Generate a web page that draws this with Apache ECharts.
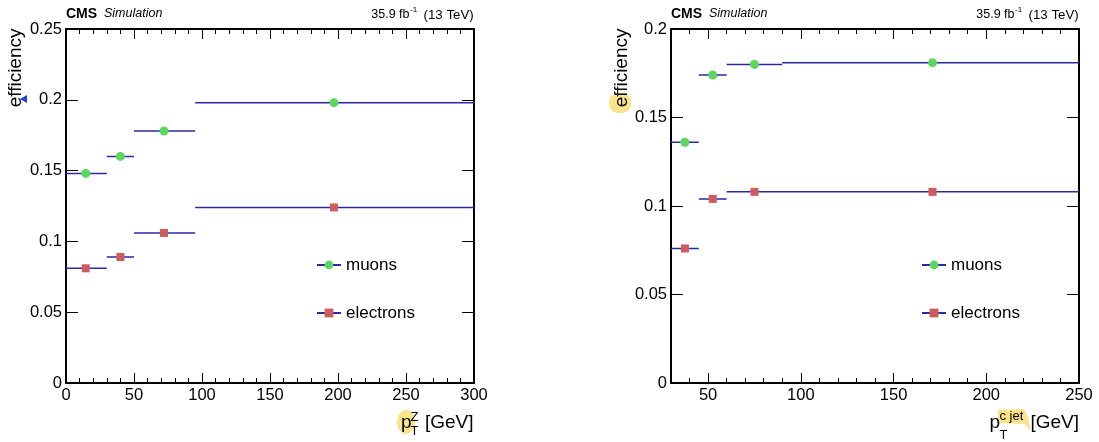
<!DOCTYPE html>
<html><head><meta charset="utf-8">
<script src="https://cdn.jsdelivr.net/npm/echarts@6/dist/echarts.min.js"></script>
<style>html,body{margin:0;padding:0;background:#fff}#c{width:1099px;height:442px}</style>
</head><body><div id="c"></div>
<script>
// ---------- data ----------
const leftBinLow = [0, 30, 50, 95];
const leftBinHigh = [30, 50, 95, 300];
const leftBinMean = [14.5, 40, 72, 197];
const leftMuons = [0.148, 0.160, 0.178, 0.198];
const leftElectrons = [0.081, 0.089, 0.106, 0.124];

const rightBinLow = [30, 45, 60, 90];
const rightBinHigh = [45, 60, 90, 250];
const rightBinMean = [37.5, 52.5, 75, 171];
const rightMuons = [0.136, 0.174, 0.180, 0.181];
const rightElectrons = [0.076, 0.104, 0.108, 0.108];

const rightXMajorTicks = [50, 100, 150, 200, 250];
const seriesNames = ['muons', 'electrons'];

// ---------- styling ----------
const FONT = "'Liberation Sans', Arial, Helvetica, sans-serif";
const BLACK = '#000';
const BAR_COLOR = '#2a2aa8';
const MUON_COLOR = '#5cd65c';
const ELEC_COLOR = '#cd5c5c';

function binSeries(name, lo, hi, mean, vals, symbol, color, xi, yi) {
  const data = [];
  for (let i = 0; i < vals.length; i++) {
    data.push({ value: [lo[i], vals[i]], symbol: 'none' });
    data.push({ value: [mean[i], vals[i]] });
    data.push({ value: [hi[i], vals[i]], symbol: 'none' });
    data.push('-');
  }
  return {
    type: 'line', name, xAxisIndex: xi, yAxisIndex: yi, data,
    symbol, symbolSize: symbol === 'circle' ? 9 : 8,
    showSymbol: true, connectNulls: false,
    itemStyle: { color, opacity: 1 },
    lineStyle: { color: BAR_COLOR, width: 1.5 },
    emphasis: { disabled: true }, silent: true, animation: false
  };
}

const axisLine = { show: true, onZero: false, lineStyle: { color: BLACK, width: 2 } };
const tickStyle = { color: BLACK, width: 1 };
const labelStyle = { color: BLACK, fontSize: 16.5, fontFamily: FONT, margin: 4 };

function xMain(grid, min, max, pos, showLabel) {
  return {
    type: 'value', gridIndex: grid, position: pos, min, max, interval: 50,
    axisLine, splitLine: { show: false },
    axisTick: { show: true, inside: true, length: 10, lineStyle: tickStyle },
    minorTick: { show: true, splitNumber: 5, length: 5, lineStyle: tickStyle },
    axisLabel: Object.assign({ show: showLabel }, labelStyle)
  };
}
function xCustomMajor(grid, min, max, pos, showLabel) {
  return {
    type: 'value', gridIndex: grid, position: pos, min, max,
    axisLine, splitLine: { show: false },
    axisTick: { show: true, inside: true, length: 10, lineStyle: tickStyle, customValues: rightXMajorTicks },
    axisLabel: Object.assign({ show: showLabel, customValues: rightXMajorTicks }, labelStyle)
  };
}
function xMinorOnly(grid, min, max, pos) {
  return {
    type: 'value', gridIndex: grid, position: pos, min, max, interval: 10,
    axisLine: { show: false, onZero: false }, splitLine: { show: false },
    axisTick: { show: true, inside: true, length: 5, lineStyle: tickStyle },
    axisLabel: { show: false }
  };
}
function yAx(grid, max, pos, showLabel) {
  return {
    type: 'value', gridIndex: grid, position: pos, min: 0, max, interval: 0.05,
    axisLine, splitLine: { show: false },
    axisTick: { show: true, inside: true, length: 12, lineStyle: tickStyle },
    axisLabel: Object.assign({ show: showLabel }, labelStyle)
  };
}

function txt(x, y, text, size, opts) {
  return Object.assign({
    type: 'text', x, y, silent: true, z: 10,
    style: Object.assign({ text, fontSize: size, fontFamily: FONT, fill: BLACK,
      align: 'left', verticalAlign: 'middle' }, (opts && opts.style) || {})
  }, (opts && opts.el) || {});
}

function header(L, R) {
  return [
    txt(L, 14, 'CMS', 14, { style: { fontWeight: 'bold' } }),
    txt(L + 38, 14, 'Simulation', 12.5, { style: { fontStyle: 'italic' } }),
    txt(R - 64.5, 15, '35.9 fb', 12.5, { style: { align: 'right' } }),
    txt(R - 64, 10, '-1', 8),
    txt(R - 50.5, 15, '(13 TeV)', 13.3)
  ];
}
function effTitle(x) {
  return txt(x, 28.5, 'efficiency', 19, { style: { align: 'right' }, el: { rotation: Math.PI / 2 } });
}

const graphics = [
  // highlight marks present in the reference picture
  { type: 'ellipse', shape: { cx: 406, cy: 422, rx: 9, ry: 12 }, style: { fill: '#fbe38c' }, z: 1, silent: true },
  { type: 'rect', shape: { x: 609, y: 93, width: 22, height: 20, r: 9 }, style: { fill: '#fbe38c' }, z: 1, silent: true },
  { type: 'polygon', shape: { points: [[998, 410], [1024, 409], [1028, 418], [1031, 432], [1025, 424], [998, 423]] }, style: { fill: '#fbe38c' }, z: 1, silent: true },
  { type: 'polygon', shape: { points: [[20, 99], [27, 95], [27, 103]] }, style: { fill: '#1f3de0' }, z: 11, silent: true },
  ...header(66, 474),
  ...header(671, 1079),
  effTitle(16),
  effTitle(622),
  txt(401, 422.5, 'p', 19),
  txt(410.5, 417.5, 'Z', 13),
  txt(410.5, 431.7, 'T', 13),
  txt(473.5, 422.5, '[GeV]', 19, { style: { align: 'right' } }),
  txt(989.5, 422.5, 'p', 19),
  txt(999.5, 416.5, 'c jet', 13),
  txt(999.5, 435, 'T', 13),
  txt(1079, 422.5, '[GeV]', 19, { style: { align: 'right' } })
];

const legendBase = {
  orient: 'vertical', top: 256, itemGap: 30, itemWidth: 24, itemHeight: 11,
  padding: 0, selectedMode: false, data: seriesNames,
  textStyle: { fontSize: 17, fontFamily: FONT, color: BLACK, lineHeight: 18 }
};

const option = {
  animation: false,
  backgroundColor: '#fff',
  grid: [
    { left: 66, top: 29, width: 408, height: 354, containLabel: false },
    { left: 671, top: 29, width: 408, height: 354, containLabel: false }
  ],
  xAxis: [
    xMain(0, 0, 300, 'bottom', true),
    xMain(0, 0, 300, 'top', false),
    xCustomMajor(1, 30, 250, 'bottom', true),
    xMinorOnly(1, 30, 250, 'bottom'),
    xCustomMajor(1, 30, 250, 'top', false),
    xMinorOnly(1, 30, 250, 'top')
  ],
  yAxis: [
    yAx(0, 0.25, 'left', true),
    yAx(0, 0.25, 'right', false),
    yAx(1, 0.2, 'left', true),
    yAx(1, 0.2, 'right', false)
  ],
  legend: [
    Object.assign({ left: 316 }, legendBase),
    Object.assign({ left: 921 }, legendBase)
  ],
  series: [
    binSeries(seriesNames[0], leftBinLow, leftBinHigh, leftBinMean, leftMuons, 'circle', MUON_COLOR, 0, 0),
    binSeries(seriesNames[1], leftBinLow, leftBinHigh, leftBinMean, leftElectrons, 'rect', ELEC_COLOR, 0, 0),
    binSeries(seriesNames[0], rightBinLow, rightBinHigh, rightBinMean, rightMuons, 'circle', MUON_COLOR, 2, 2),
    binSeries(seriesNames[1], rightBinLow, rightBinHigh, rightBinMean, rightElectrons, 'rect', ELEC_COLOR, 2, 2)
  ],
  graphic: graphics
};

const chart = echarts.init(document.getElementById('c'), null, { renderer: 'canvas' });
chart.setOption(option);
</script>
</body></html>
